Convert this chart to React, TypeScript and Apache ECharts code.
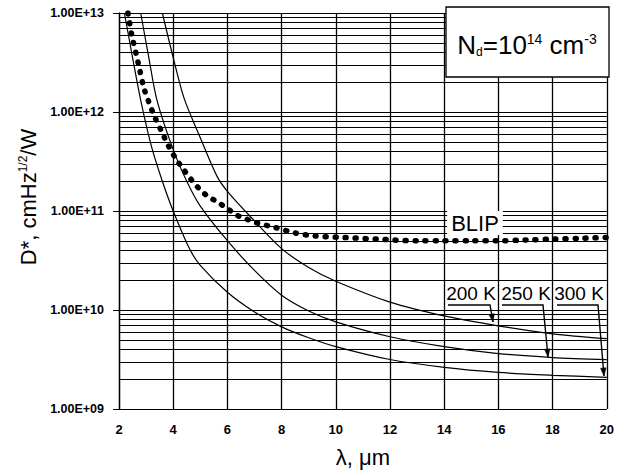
import React, { useEffect, useRef } from "react";
import * as echarts from "echarts";

// ---- data ----
const lambda300 = [2.2, 2.5, 2.8, 3.2, 3.6, 4.0, 4.6, 5.0, 6.0, 7.0, 8.0, 9.0, 10, 12, 14, 16, 18, 20];
const dstar300 = [1.0e13, 3.55e12, 1.32e12, 4.47e11, 2.0e11, 1.0e11, 4.17e10, 2.82e10, 1.51e10, 9.55e9, 6.76e9, 5.25e9, 4.27e9, 3.16e9, 2.63e9, 2.34e9, 2.19e9, 2.09e9];

const lambda250 = [2.8, 3.1, 3.4, 4.0, 4.5, 5.0, 6.0, 7.0, 8.0, 9.0, 10, 12, 14, 16, 18, 20];
const dstar250 = [1.0e13, 3.55e12, 1.32e12, 4.17e11, 2.0e11, 1.12e11, 5.01e10, 2.51e10, 1.41e10, 9.77e9, 7.59e9, 5.37e9, 4.27e9, 3.63e9, 3.31e9, 3.16e9];

const lambda200 = [3.6, 4.0, 4.4, 5.0, 5.6, 6.0, 7.0, 8.0, 9.0, 10, 12, 14, 16, 18, 20];
const dstar200 = [1.0e13, 3.55e12, 1.38e12, 5.5e11, 2.29e11, 1.58e11, 7.94e10, 4.17e10, 2.69e10, 1.95e10, 1.2e10, 8.71e9, 6.92e9, 5.75e9, 5.13e9];

const lambdaBlip = [2.33, 2.47, 2.62, 2.77, 2.92, 3.1, 3.32, 3.58, 3.8, 4.06, 4.35, 4.65, 4.94, 5.27, 5.64, 5.97, 6.34, 6.7, 7.07, 7.77, 8.5, 9.2, 10.3, 11.5, 13, 14, 15, 16, 17, 18, 19, 20];
const dstarBlip = [1.0e13, 6.0e12, 4.0e12, 2.63e12, 1.74e12, 1.26e12, 8.9e11, 6.3e11, 4.7e11, 3.5e11, 2.7e11, 2.1e11, 1.7e11, 1.41e11, 1.23e11, 1.07e11, 9.1e10, 8.3e10, 7.6e10, 6.8e10, 6.0e10, 5.6e10, 5.4e10, 5.2e10, 5.0e10, 5.0e10, 5.0e10, 5.0e10, 5.1e10, 5.2e10, 5.3e10, 5.4e10];

const xTickValues = [2, 4, 6, 8, 10, 12, 14, 16, 18, 20];
const yTickExponents = [9, 10, 11, 12, 13];
const curveLabels = ["200 K", "250 K", "300 K"];

const FONT = "'Liberation Sans', Arial, sans-serif";

const zip = (xs: number[], ys: number[]) => xs.map((x, i) => [x, ys[i]]);

function formatY(v: number): string {
  const e = Math.round(Math.log10(v));
  if (!yTickExponents.includes(e)) return "";
  return "1.00E+" + (e < 10 ? "0" : "") + e;
}

function arrowHead(from: number[], tip: number[], len = 8, half = 2.8): number[][] {
  const dx = tip[0] - from[0];
  const dy = tip[1] - from[1];
  const d = Math.hypot(dx, dy) || 1;
  const ux = dx / d, uy = dy / d;
  const bx = tip[0] - ux * len, by = tip[1] - uy * len;
  return [tip, [bx - uy * half, by + ux * half], [bx + uy * half, by - ux * half]];
}

export default function App() {
  const ref = useRef<HTMLDivElement>(null);

  useEffect(() => {
    if (!ref.current) return;
    const chart = echarts.init(ref.current, undefined, { renderer: "svg" });

    const thin = { color: "#000", width: 1.2 };
    const arrows = [
      { text: curveLabels[0], cx: 471, pts: [[448, 305], [490, 305], [493, 322]] },
      { text: curveLabels[1], cx: 526, pts: [[502, 305], [543, 305], [548, 357]] },
      { text: curveLabels[2], cx: 579, pts: [[557, 305], [598, 305], [604, 376]] },
    ];
    const graphics: any[] = [
      {
        type: "rect",
        z: 100,
        shape: { x: 446, y: 7, width: 163, height: 70 },
        style: { fill: "#fff", stroke: "#000", lineWidth: 1.3 },
      },
      {
        type: "text",
        z: 101,
        x: 527,
        y: 45,
        style: {
          text: "N{sub|d}=10{sup|14} cm{sup|-3}",
          fontSize: 26,
          fontFamily: FONT,
          fill: "#000",
          align: "center",
          verticalAlign: "middle",
          rich: {
            sub: { fontSize: 12, fontFamily: FONT, verticalAlign: "bottom", fill: "#000" },
            sup: { fontSize: 14, fontFamily: FONT, verticalAlign: "top", fill: "#000" },
          },
        },
      },
      {
        type: "text",
        z: 101,
        x: 475,
        y: 223,
        style: {
          text: "BLIP",
          fontSize: 22,
          fontFamily: FONT,
          fill: "#000",
          align: "center",
          verticalAlign: "middle",
          backgroundColor: "#fff",
          padding: [1, 4],
        },
      },
    ];
    arrows.forEach((a) => {
      graphics.push({
        type: "text",
        z: 101,
        x: a.cx,
        y: 293,
        style: {
          text: a.text,
          fontSize: 19,
          fontFamily: FONT,
          fill: "#000",
          align: "center",
          verticalAlign: "middle",
        },
      });
      graphics.push({
        type: "polyline",
        z: 101,
        shape: { points: a.pts },
        style: { stroke: "#000", lineWidth: 1.4, fill: "none" },
      });
      graphics.push({
        type: "polygon",
        z: 101,
        shape: { points: arrowHead(a.pts[1], a.pts[2]) },
        style: { fill: "#000", stroke: "#000", lineWidth: 0.5 },
      });
    });

    chart.setOption({
      animation: false,
      backgroundColor: "#fff",
      grid: { left: 119, right: 8, top: 13, bottom: 63, show: false },
      xAxis: {
        type: "value",
        min: xTickValues[0],
        max: xTickValues[xTickValues.length - 1],
        interval: 2,
        axisLine: { show: false },
        axisTick: { show: false },
        axisLabel: {
          color: "#000",
          fontWeight: "bold",
          fontSize: 13,
          fontFamily: FONT,
          margin: 14,
        },
        splitLine: { show: true, lineStyle: { color: "#000", width: 1.3 } },
        name: "λ, μm",
        nameLocation: "middle",
        nameGap: 37,
        nameTextStyle: { fontSize: 22, color: "#000", fontFamily: FONT },
      },
      yAxis: {
        type: "log",
        logBase: 10,
        min: Math.pow(10, yTickExponents[0]),
        max: Math.pow(10, yTickExponents[yTickExponents.length - 1]),
        axisLine: { show: true, lineStyle: { color: "#000", width: 1.3 } },
        axisTick: { show: true, length: 6, lineStyle: { color: "#000" } },
        axisLabel: {
          formatter: formatY,
          color: "#000",
          fontWeight: "bold",
          fontSize: 12.5,
          fontFamily: FONT,
          margin: 15,
        },
        splitLine: { show: true, lineStyle: { color: "#000", width: 1.2 } },
        minorTick: { show: false, splitNumber: 9 },
        minorSplitLine: { show: true, lineStyle: { color: "#000", width: 1 } },
        name: "D*, cmHz{sup|1/2}/W",
        nameLocation: "middle",
        nameGap: 72,
        nameTextStyle: {
          fontSize: 22,
          color: "#000",
          fontFamily: FONT,
          padding: [0, 0, 0, 28],
          rich: {
            sup: { fontSize: 12, fontFamily: FONT, color: "#000", verticalAlign: "top" },
          },
        },
      },
      series: [
        {
          type: "line",
          name: "300 K",
          data: zip(lambda300, dstar300),
          smooth: 0.3,
          showSymbol: false,
          lineStyle: thin,
          z: 3,
        },
        {
          type: "line",
          name: "250 K",
          data: zip(lambda250, dstar250),
          smooth: 0.3,
          showSymbol: false,
          lineStyle: thin,
          z: 3,
        },
        {
          type: "line",
          name: "200 K",
          data: zip(lambda200, dstar200),
          smooth: 0.3,
          showSymbol: false,
          lineStyle: thin,
          z: 3,
        },
        {
          type: "line",
          name: "BLIP",
          data: zip(lambdaBlip, dstarBlip),
          smooth: 0.3,
          showSymbol: false,
          lineStyle: { color: "#000", width: 5.5, type: [1, 9], cap: "round" },
          z: 4,
        },
      ],
      graphic: graphics,
    });

    return () => chart.dispose();
  }, []);

  return (
    <div
      ref={ref}
      style={{ position: "fixed", left: 0, top: 0, width: 617, height: 473, background: "#fff" }}
    />
  );
}
